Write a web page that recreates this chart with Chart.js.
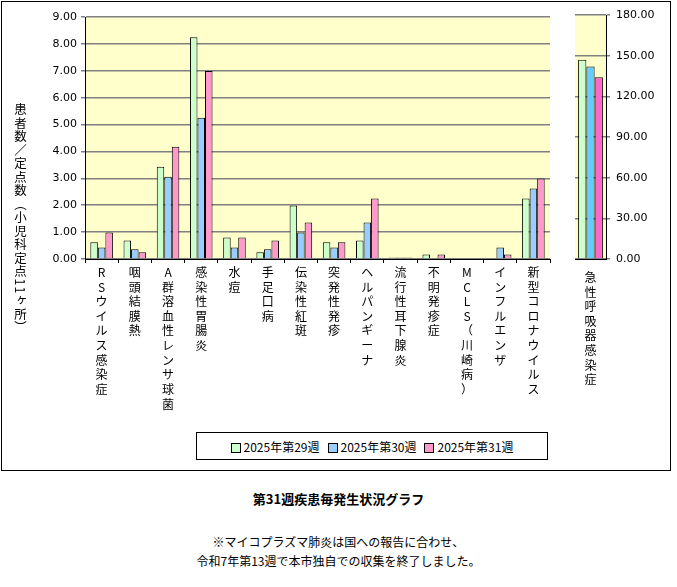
<!DOCTYPE html>
<html><head><meta charset="utf-8">
<script src="https://cdn.jsdelivr.net/npm/chart.js@4/dist/chart.umd.min.js"></script>
<style>
body{margin:0;background:#fff;width:677px;height:587px;position:relative;overflow:hidden;font-family:"Noto Sans CJK JP","DejaVu Sans",sans-serif;}
#frame{position:absolute;left:1px;top:1px;width:668px;height:468px;border:1px solid #000;}
.abs{position:absolute;}
#ytitle{left:12px;top:103px;writing-mode:vertical-rl;font-size:12.5px;line-height:16px;letter-spacing:1px;}
#legend{left:196px;top:432px;width:350px;height:26px;border:1px solid #000;display:flex;align-items:center;justify-content:center;font-size:12px;gap:8px;}
#legend span.b{display:inline-block;width:8px;height:8px;border:1px solid #000;margin-right:3px;vertical-align:middle}
#title{left:0;width:677px;top:489px;text-align:center;font-weight:bold;font-size:13px;}
.note{left:0;width:677px;text-align:center;font-size:12px;}
</style></head><body>
<div id="frame"></div>
<canvas id="c1" class="abs" style="left:0;top:0" width="560" height="420"></canvas>
<canvas id="c2" class="abs" style="left:560px;top:0" width="112" height="420"></canvas>
<div id="ytitle" class="abs">患者数／定点数（小児科定点11ヶ所）</div>
<div id="legend" class="abs"></div>
<div id="title" class="abs">第31週疾患毎発生状況グラフ</div>
<div class="abs note" style="top:533px">※マイコプラズマ肺炎は国への報告に合わせ、</div>
<div class="abs note" style="top:552px">令和7年第13週で本市独自での収集を終了しました。</div>
<script>
const categories=["RSウイルス感染症","咽頭結膜熱","A群溶血性レンサ球菌","感染性胃腸炎","水痘","手足口病","伝染性紅斑","突発性発疹","ヘルパンギーナ","流行性耳下腺炎","不明発疹症","MCLS（川崎病）","インフルエンザ","新型コロナウイルス"];
const seriesNames=["2025年第29週","2025年第30週","2025年第31週"];
const w29=[0.62,0.69,3.43,8.25,0.80,0.25,1.99,0.62,0.69,0.06,0.17,0,0,2.25];
const w30=[0.43,0.36,3.06,5.25,0.43,0.36,0.99,0.43,1.36,0.06,0,0,0.43,2.62];
const w31=[0.99,0.25,4.17,6.99,0.80,0.69,1.36,0.62,2.25,0.06,0.17,0,0.17,2.99];
const ariCategory=["急性呼吸器感染症"];
const ari29=[147], ari30=[142], ari31=[134];
const yTicks=[0,1,2,3,4,5,6,7,8,9];
const yTicksR=[0,30,60,90,120,150,180];
const colors=["#CCFFCC","#99CCFF","#FF99CC"];
const colorsR=["#CCFFCC","#66CCFF","#FF66CC"];
const font={family:"'Noto Sans CJK JP','DejaVu Sans',sans-serif",size:12};
const bg={id:'bg',beforeDraw(ch){const a=ch.chartArea,c=ch.ctx;c.save();c.fillStyle='#FFFFCC';c.fillRect(a.left,a.top,a.right-a.left,a.bottom-a.top);c.restore();}};
const vert=s=>Array.from(s);
function ds(vals,cols){return vals.map((v,i)=>({label:seriesNames[i],data:v,backgroundColor:cols[i],borderColor:'#000',borderWidth:1,categoryPercentage:0.68,barPercentage:1}));}
new Chart(document.getElementById('c1'),{type:'bar',plugins:[bg],
data:{labels:categories.map(vert),datasets:ds([w29,w30,w31],colors)},
options:{responsive:false,maintainAspectRatio:false,animation:false,devicePixelRatio:1,
layout:{padding:{left:0,right:10,top:17,bottom:0}},
plugins:{legend:{display:false},tooltip:{enabled:false}},
scales:{
x:{grid:{display:true,drawOnChartArea:false,offset:true,color:'#000',tickLength:4},border:{color:'#000'},
ticks:{font:{...font,lineHeight:1.22},color:'#000',maxRotation:0,autoSkip:false,padding:2},
afterFit(s){s.height=161;}},
y:{min:0,max:9,afterBuildTicks(s){s.ticks=yTicks.map(v=>({value:v}));},
ticks:{callback:v=>v.toFixed(2),font:{family:"Verdana,'DejaVu Sans',sans-serif",size:11},color:'#000',padding:4},
grid:{color:'#808080',lineWidth:1.5,tickLength:4},border:{color:'#000'},afterFit(s){s.width=85;}}
}}});
new Chart(document.getElementById('c2'),{type:'bar',plugins:[bg],
data:{labels:ariCategory.map(vert),datasets:ds([ari29,ari30,ari31],colorsR).map(d=>({...d,categoryPercentage:0.8}))},
options:{responsive:false,maintainAspectRatio:false,animation:false,devicePixelRatio:1,
layout:{padding:{left:15,right:0,top:15,bottom:0}},
plugins:{legend:{display:false},tooltip:{enabled:false}},
scales:{
x:{grid:{display:false},border:{color:'#000'},ticks:{font:{...font,lineHeight:1.22},color:'#000',maxRotation:0,autoSkip:false},afterFit(s){s.height=161;}},
y:{position:'right',min:0,max:180,afterBuildTicks(s){s.ticks=yTicksR.map(v=>({value:v}));},
ticks:{callback:v=>v.toFixed(2),font:{family:"Verdana,'DejaVu Sans',sans-serif",size:11},color:'#000',padding:6},
grid:{color:'#808080',lineWidth:1.5,tickLength:4},border:{color:'#000'},afterFit(s){s.width=66;}}
}}});
document.getElementById('legend').innerHTML=seriesNames.map((n,i)=>`<span><span class="b" style="background:${colors[i]}"></span>${n}</span>`).join('');
</script></body></html>
